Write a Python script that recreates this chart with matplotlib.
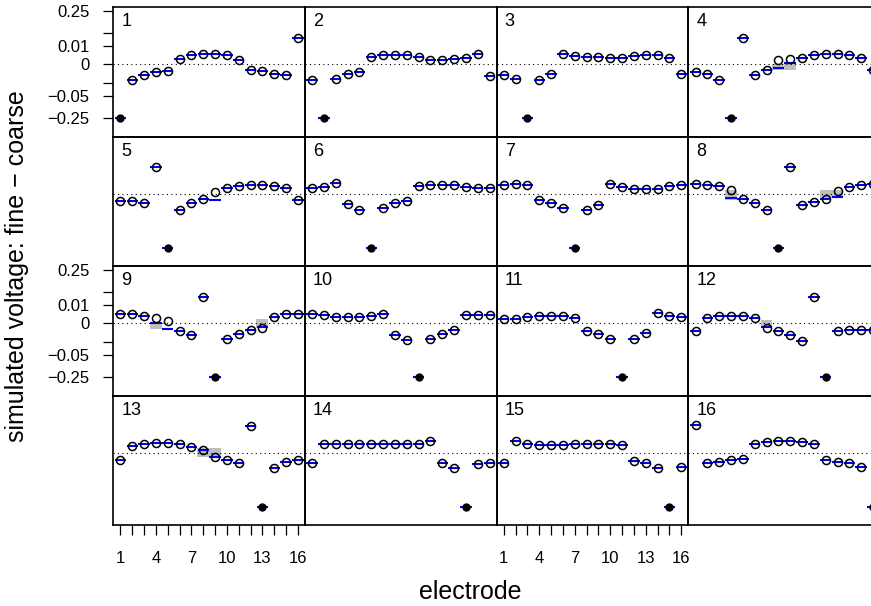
import numpy as np
import matplotlib.pyplot as plt

plt.rcParams["font.family"] = ["Liberation Sans", "DejaVu Sans"]

electrodes = np.arange(1, 17)

# fine minus coarse voltage at each electrode, one list per driven electrode
drive_01 = [-0.25, -0.0058, -0.0021, -0.00072, -0.00048, 0.00029, 0.00145, 0.00195,
            0.00195, 0.00117, 0.00016, -0.00035, -0.00048, -0.0013, -0.0021, 0.0305]
drive_02 = [-0.0058, -0.25, -0.0047, -0.0016, -0.00072, 0.00063, 0.00145, 0.00145,
            0.00145, 0.00063, 0.00016, 0.00016, 0.00029, 0.00041, 0.0016, -0.0025]
drive_03 = [-0.0021, -0.0047, -0.25, -0.0058, -0.0013, 0.00195, 0.00093, 0.00063,
            0.00063, 0.00041, 0.00048, 0.00093, 0.00117, 0.00117, 0.00041, -0.0013]
drive_04 = [-0.00072, -0.0013, -0.0066, -0.25, 0.0305, -0.0018, -0.00024, 0.00016,
            0.00029, 0.00048, 0.00117, 0.0016, 0.0016, 0.00117, 0.00048, -0.0003]
drive_05 = [-0.00048, -0.00063, -0.0013, 0.0305, -0.25, -0.0062, -0.0013, -0.0002,
            0.00002, 0.00029, 0.00093, 0.00117, 0.0013, 0.00093, 0.00035, -0.00035]
drive_06 = [0.00035, 0.00063, 0.0021, -0.0016, -0.0062, -0.25, -0.0047, -0.0013,
            -0.00063, 0.00072, 0.00117, 0.00117, 0.00117, 0.00063, 0.00035, 0.00035]
drive_07 = [0.0013, 0.0016, 0.00117, -0.00029, -0.0013, -0.0047, -0.25, -0.0066,
            -0.0021, 0.0016, 0.00048, 0.0002, 0.0002, 0.0002, 0.00072, 0.0013]
drive_08 = [0.0016, 0.0013, 0.00072, 0.00013, -0.0002, -0.0013, -0.0066, -0.25,
            0.0305, -0.0021, -0.00072, -0.0002, 0.00006, 0.00048, 0.0013, 0.0016]
drive_09 = [0.00145, 0.00117, 0.00063, 0.0002, 0.00002, -0.00072, -0.0025, 0.0293,
            -0.25, -0.0066, -0.0018, -0.00055, -0.00013, 0.00048, 0.00117, 0.00145]
drive_10 = [0.0013, 0.00093, 0.00041, 0.00041, 0.00041, 0.00063, 0.0013, -0.0025,
            -0.0074, -0.25, -0.0062, -0.0019, -0.00048, 0.00093, 0.00093, 0.00093]
drive_11 = [0.00013, 0.00013, 0.00041, 0.00063, 0.00063, 0.00063, 0.00024, -0.00072,
            -0.0019, -0.0062, -0.25, -0.0062, -0.0015, 0.0018, 0.00063, 0.00041]
drive_12 = [-0.00072, 0.00024, 0.00063, 0.00063, 0.00063, 0.00024, -0.00016, -0.00072,
            -0.0025, -0.0088, 0.0282, -0.25, -0.00072, -0.0005, -0.0005, -0.0005]
drive_13 = [-0.00048, 0.00048, 0.00117, 0.0016, 0.0016, 0.00117, 0.00029, 0.00006,
            -0.00013, -0.00055, -0.0016, 0.0328, -0.25, -0.0054, -0.0013, -0.00055]
drive_14 = [-0.00145, 0.0013, 0.0013, 0.0013, 0.0013, 0.0013, 0.0013, 0.0013,
            0.0013, 0.0013, 0.003, -0.00145, -0.0051, -0.25, -0.0025, -0.00145]
drive_15 = [-0.00145, 0.003, 0.0013, 0.00093, 0.00093, 0.00093, 0.0013, 0.0013,
            0.0013, 0.0013, 0.00093, -0.00072, -0.00145, -0.0051, -0.25, -0.0041]
drive_16 = [0.0365, -0.00145, -0.00117, -0.00063, -0.00035, 0.00117, 0.0021, 0.0025,
            0.0025, 0.0021, 0.00117, -0.00063, -0.00117, -0.00145, -0.0041, -0.25]

drives = [drive_01, drive_02, drive_03, drive_04, drive_05, drive_06, drive_07, drive_08,
          drive_09, drive_10, drive_11, drive_12, drive_13, drive_14, drive_15, drive_16]

# fitted value where it differs from the observed one: (drive, electrode) -> value
fit_changes = {
    (4, 8): -0.00008, (4, 9): 0.000004,
    (5, 9): -0.0003,
    (8, 4): -0.0001, (8, 13): -0.00005,
    (9, 4): 0.0, (9, 5): -0.00035, (9, 13): -0.0001,
    (12, 7): -0.00005,
    (13, 8): 0.00005, (13, 9): -0.0001,
}

# shaded intervals: drive, first electrode, last electrode, low, high
shaded = [
    (4, 8, 9, -0.00035, 0.0),
    (5, 9, 9, -0.00035, -0.0002),
    (8, 4, 4, -0.00035, 0.0001),
    (8, 12, 13, -0.0001, 0.0001),
    (9, 4, 4, -0.00035, 0.0),
    (9, 13, 13, -0.00013, 0.00015),
    (12, 7, 7, -0.0002, 0.00005),
    (13, 8, 9, -0.00013, 0.00015),
]

ytick_vals = [-0.25, -0.05, -0.01, 0, 0.01, 0.05, 0.25]
ytick_text = ["\u22120.25", "\u22120.05", "", "0", "0.01", "", "0.25"]
xtick_text = [str(e) if e % 3 == 1 else "" for e in electrodes]

W, H = 871, 606
left0, top0 = 113.3, 7.0
pw, ph = 191.7, 129.5

fig = plt.figure(figsize=(W / 100, H / 100), dpi=100)

for p, obs in enumerate(drives):
    drive = p + 1
    row, col = divmod(p, 4)
    ax = fig.add_axes([(left0 + col * pw) / W, 1 - (top0 + (row + 1) * ph) / H,
                       pw / W, ph / H])
    ax.patch.set_visible(False)
    ax.set_yscale("function", functions=(np.cbrt, lambda v: v ** 3))
    ax.set_xlim(0.4, 16.6)
    ax.set_ylim(-0.604, 0.305)

    obs = np.array(obs)
    fit = obs.copy()
    for (d, e), v in fit_changes.items():
        if d == drive:
            fit[e - 1] = v

    for d, e0, e1, lo, hi in shaded:
        if d == drive:
            ax.fill_between([e0 - 0.5, e1 + 0.5], lo, hi, color="#bebebe",
                            lw=0, zorder=1)

    ax.axhline(0, color="black", ls=(0, (1, 3)), lw=0.8, zorder=1.5)
    ax.hlines(fit, electrodes - 0.48, electrodes + 0.48, colors="#0000ff",
              lw=1.5, zorder=2, clip_on=False)

    driven = electrodes == drive
    ax.plot(electrodes[~driven], obs[~driven], "o", mfc="none", mec="black",
            ms=5.8, mew=1.1, zorder=3, clip_on=False)
    ax.plot(electrodes[driven], obs[driven], "o", color="black", ms=5,
            zorder=3, clip_on=False)

    ax.text(0.042, 0.95, str(drive), transform=ax.transAxes, ha="left",
            va="top", fontsize=13)

    for s in ax.spines.values():
        s.set_linewidth(1.2)

    ax.tick_params(direction="out", length=7, width=0.9, labelsize=12)
    ax.tick_params(axis="y", pad=10)
    ax.tick_params(axis="x", pad=12)
    if row % 2 == 0 and col == 0:
        ax.set_yticks(ytick_vals)
        ax.set_yticklabels(ytick_text)
    else:
        ax.set_yticks([])
    ax.minorticks_off()
    if row == 3 and col % 2 == 0:
        ax.set_xticks(electrodes)
        ax.set_xticklabels(xtick_text)
    else:
        ax.set_xticks([])

fig.text(17 / W, 1 - 266 / H, "simulated voltage: fine \u2212 coarse",
         rotation=90, ha="center", va="center", fontsize=18)
fig.text(470 / W, 1 - 592 / H, "electrode", ha="center", va="center",
         fontsize=18)

fig.savefig("out.png", dpi=100)
